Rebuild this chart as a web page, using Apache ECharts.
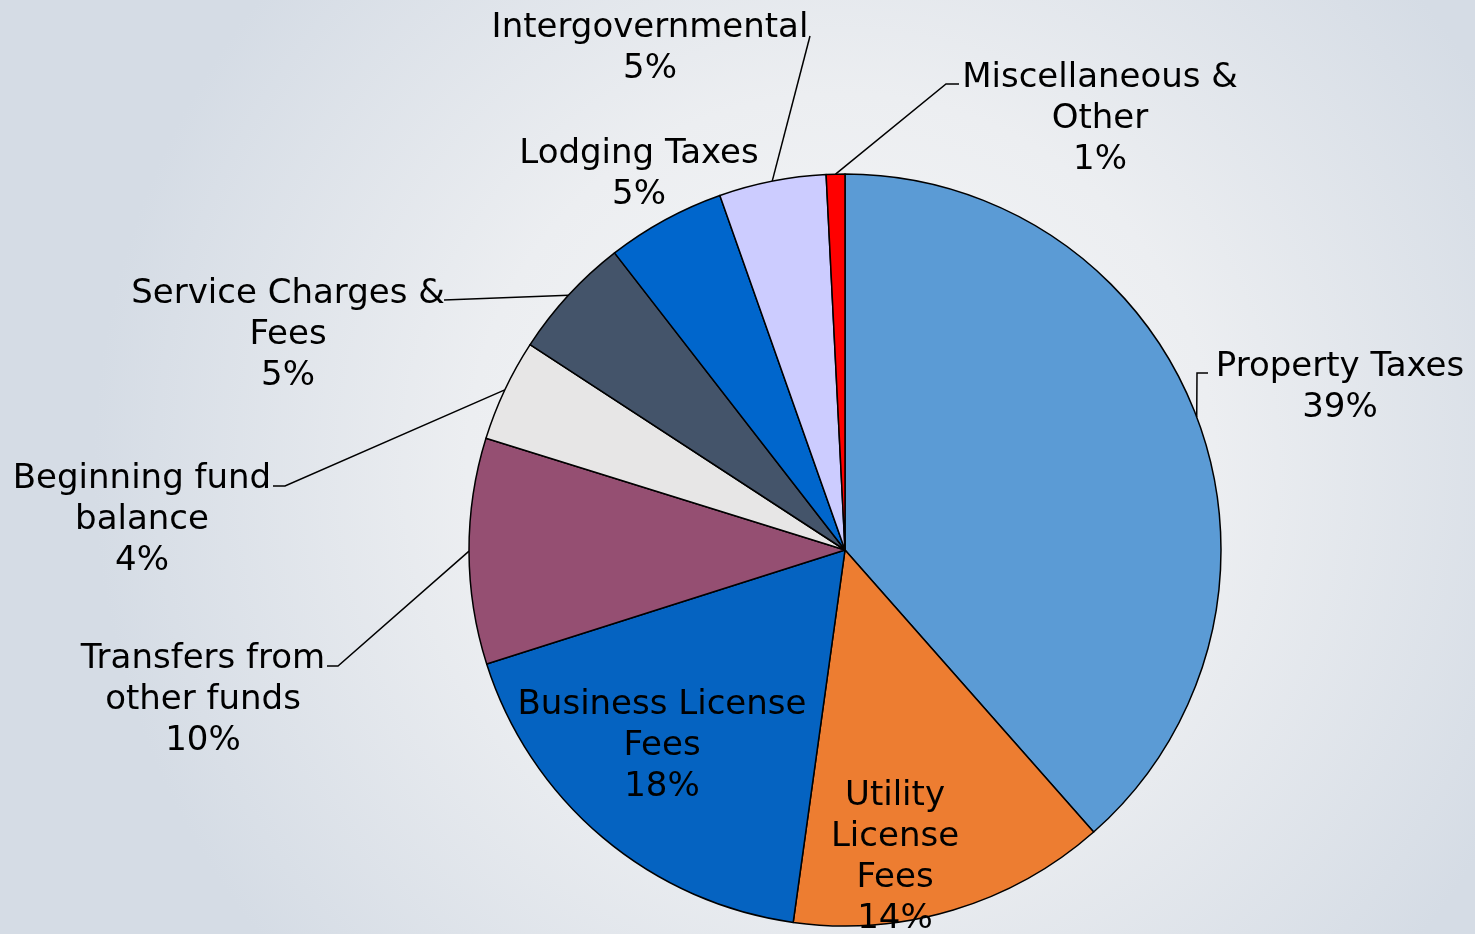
<!DOCTYPE html>
<html>
<head>
<meta charset="utf-8">
<script src="https://cdn.jsdelivr.net/npm/echarts@6/dist/echarts.min.js"></script>
<style>
  html, body { margin: 0; padding: 0; }
  #chart { width: 1475px; height: 934px; }
</style>
</head>
<body>
<div id="chart"></div>
<script>
// slices, clockwise from 12 o'clock
const categories = [
    'Property Taxes',
    'Utility\nLicense\nFees',
    'Business License\nFees',
    'Transfers from\nother funds',
    'Beginning fund\nbalance',
    'Service Charges &\nFees',
    'Lodging Taxes',
    'Intergovernmental',
    'Miscellaneous &\nOther'
];
const shares = [38.5, 13.7, 17.9, 9.7, 4.4, 5.3, 5.1, 4.6, 0.8];
const sliceColors = ['#5B9BD5', '#ED7D31', '#0563C1', '#954F72', '#E7E6E6', '#44546A', '#0066CC', '#CCCCFF', '#FF0000'];

// where each label sits and how its leader line bends (page pixels)
const labelSpots = [
    { x: 1340, y: 388, bend: [[1197, 373], [1208, 373]] },
    { x: 895, y: 858 },
    { x: 662, y: 746 },
    { x: 203, y: 700, bend: [[338, 666], [327, 666]] },
    { x: 142, y: 520, bend: [[285, 486], [273, 486]] },
    { x: 288, y: 335, bend: [[444, 300], [444, 300]] },
    { x: 639, y: 175 },
    { x: 650, y: 49, bend: [[810, 36], [810, 36]] },
    { x: 1100, y: 119, bend: [[946, 84], [959, 84]] }
];

let chart = echarts.init(document.getElementById('chart'));

let pieData = categories.map((name, i) => ({
    name: name,
    value: shares[i],
    itemStyle: { color: sliceColors[i] },
    labelLine: { show: !!labelSpots[i].bend }
}));

let options = {
    animation: false,
    backgroundColor: {
        type: 'radial',
        x: 0.57,
        y: 0.5,
        r: 0.8,
        colorStops: [
            { offset: 0, color: '#f6f7f8' },
            { offset: 0.5, color: '#eceef1' },
            { offset: 1, color: '#d5dce5' }
        ]
    },
    series: [{
        type: 'pie',
        center: [845, 550],
        radius: 376,
        startAngle: 90,
        clockwise: true,
        avoidLabelOverlap: false,
        itemStyle: {
            borderColor: '#000',
            borderWidth: 1.5
        },
        label: {
            show: true,
            position: 'outside',
            color: '#000',
            fontFamily: 'DejaVu Sans',
            fontSize: 34,
            lineHeight: 41,
            align: 'center',
            formatter: p => p.name + '\n' + Math.round(p.percent) + '%'
        },
        labelLine: {
            show: true,
            length: 10,
            length2: 10,
            lineStyle: { color: '#000', width: 1.5 }
        },
        emphasis: { disabled: true },
        labelLayout: function (params) {
            let spot = labelSpots[params.dataIndex];
            let res = {
                x: spot.x,
                y: spot.y,
                align: 'center',
                verticalAlign: 'middle'
            };
            if (spot.bend && params.labelLinePoints) {
                let start = params.labelLinePoints[0];
                res.labelLinePoints = [start, spot.bend[0], spot.bend[1]];
            }
            return res;
        },
        data: pieData
    }]
};

chart.setOption(options);
</script>
</body>
</html>
